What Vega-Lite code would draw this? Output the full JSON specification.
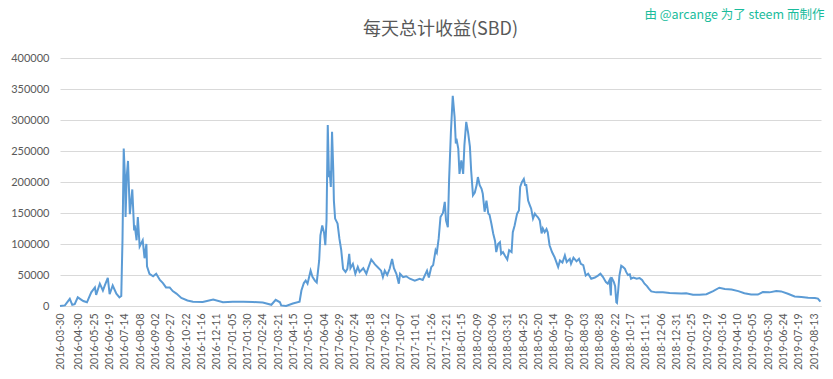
{
  "$schema": "https://vega.github.io/schema/vega-lite/v6.json",
  "background": "white",
  "padding": {"left": 10, "top": 8, "right": 15, "bottom": 5},
  "title": {"text": "由 @arcange 为了 steem 而制作", "anchor": "end", "color": "#1ABC9C", "fontSize": 12.5, "font": "Noto Sans CJK SC", "fontWeight": "normal", "offset": 0},
  "config": {"view": {"stroke": null}},
  "vconcat": [
    {
      "width": 761,
      "height": 248,
      "title": {"text": "每天总计收益(SBD)", "fontSize": 18, "font": "Noto Sans CJK SC", "fontWeight": "normal", "color": "#595959", "anchor": "middle", "offset": 13},
      "data": {"values": [
        {"date": "2016-03-30", "value": 0},
        {"date": "2016-04-07", "value": 1000},
        {"date": "2016-04-15", "value": 11600},
        {"date": "2016-04-19", "value": 2000},
        {"date": "2016-04-23", "value": 3000},
        {"date": "2016-04-28", "value": 14000},
        {"date": "2016-05-07", "value": 8000},
        {"date": "2016-05-13", "value": 6000},
        {"date": "2016-05-20", "value": 22000},
        {"date": "2016-05-26", "value": 30000},
        {"date": "2016-05-28", "value": 18000},
        {"date": "2016-06-03", "value": 36000},
        {"date": "2016-06-08", "value": 25000},
        {"date": "2016-06-11", "value": 33000},
        {"date": "2016-06-16", "value": 45500},
        {"date": "2016-06-19", "value": 19000},
        {"date": "2016-06-24", "value": 33000},
        {"date": "2016-06-30", "value": 20000},
        {"date": "2016-07-05", "value": 14000},
        {"date": "2016-07-08", "value": 16000},
        {"date": "2016-07-09", "value": 63000},
        {"date": "2016-07-10", "value": 106000},
        {"date": "2016-07-12", "value": 254000},
        {"date": "2016-07-14", "value": 208000},
        {"date": "2016-07-15", "value": 143500},
        {"date": "2016-07-17", "value": 210000},
        {"date": "2016-07-19", "value": 234000},
        {"date": "2016-07-22", "value": 148000},
        {"date": "2016-07-26", "value": 188000},
        {"date": "2016-07-29", "value": 122000},
        {"date": "2016-07-30", "value": 130000},
        {"date": "2016-08-02", "value": 106000},
        {"date": "2016-08-04", "value": 143500},
        {"date": "2016-08-07", "value": 96000},
        {"date": "2016-08-12", "value": 106000},
        {"date": "2016-08-15", "value": 77000},
        {"date": "2016-08-18", "value": 100000},
        {"date": "2016-08-19", "value": 64000},
        {"date": "2016-08-23", "value": 52000},
        {"date": "2016-08-29", "value": 48000},
        {"date": "2016-09-03", "value": 52000},
        {"date": "2016-09-09", "value": 42000},
        {"date": "2016-09-14", "value": 37000},
        {"date": "2016-09-19", "value": 30000},
        {"date": "2016-09-25", "value": 30000},
        {"date": "2016-09-30", "value": 24000},
        {"date": "2016-10-06", "value": 20000},
        {"date": "2016-10-14", "value": 13000},
        {"date": "2016-10-24", "value": 9000},
        {"date": "2016-11-02", "value": 7000},
        {"date": "2016-11-18", "value": 6500},
        {"date": "2016-12-05", "value": 10500},
        {"date": "2016-12-21", "value": 6000},
        {"date": "2017-01-06", "value": 7000},
        {"date": "2017-01-23", "value": 7000},
        {"date": "2017-02-08", "value": 6500},
        {"date": "2017-02-24", "value": 5500},
        {"date": "2017-03-10", "value": 2000},
        {"date": "2017-03-17", "value": 10000},
        {"date": "2017-03-24", "value": 6000},
        {"date": "2017-03-26", "value": 1000},
        {"date": "2017-04-03", "value": 0},
        {"date": "2017-04-14", "value": 4000},
        {"date": "2017-04-25", "value": 7000},
        {"date": "2017-04-28", "value": 25000},
        {"date": "2017-05-02", "value": 37000},
        {"date": "2017-05-05", "value": 41000},
        {"date": "2017-05-08", "value": 36000},
        {"date": "2017-05-13", "value": 57000},
        {"date": "2017-05-16", "value": 47000},
        {"date": "2017-05-20", "value": 41000},
        {"date": "2017-05-23", "value": 38000},
        {"date": "2017-05-27", "value": 73500},
        {"date": "2017-05-29", "value": 114000},
        {"date": "2017-06-01", "value": 130000},
        {"date": "2017-06-04", "value": 118000},
        {"date": "2017-06-06", "value": 98000},
        {"date": "2017-06-08", "value": 138000},
        {"date": "2017-06-10", "value": 292000},
        {"date": "2017-06-12", "value": 208000},
        {"date": "2017-06-13", "value": 218000},
        {"date": "2017-06-15", "value": 192000},
        {"date": "2017-06-17", "value": 281000},
        {"date": "2017-06-19", "value": 219000},
        {"date": "2017-06-20", "value": 170000},
        {"date": "2017-06-22", "value": 141000},
        {"date": "2017-06-26", "value": 133000},
        {"date": "2017-06-29", "value": 108600},
        {"date": "2017-07-02", "value": 90000},
        {"date": "2017-07-05", "value": 60000},
        {"date": "2017-07-09", "value": 55000},
        {"date": "2017-07-12", "value": 60000},
        {"date": "2017-07-15", "value": 84000},
        {"date": "2017-07-17", "value": 61000},
        {"date": "2017-07-21", "value": 68000},
        {"date": "2017-07-25", "value": 52000},
        {"date": "2017-07-29", "value": 63000},
        {"date": "2017-08-01", "value": 55000},
        {"date": "2017-08-07", "value": 61000},
        {"date": "2017-08-12", "value": 52000},
        {"date": "2017-08-15", "value": 61000},
        {"date": "2017-08-20", "value": 75000},
        {"date": "2017-08-26", "value": 67000},
        {"date": "2017-08-31", "value": 62000},
        {"date": "2017-09-05", "value": 57000},
        {"date": "2017-09-08", "value": 46500},
        {"date": "2017-09-11", "value": 57000},
        {"date": "2017-09-15", "value": 50000},
        {"date": "2017-09-19", "value": 60000},
        {"date": "2017-09-23", "value": 76000},
        {"date": "2017-09-26", "value": 61000},
        {"date": "2017-09-30", "value": 52000},
        {"date": "2017-10-04", "value": 36000},
        {"date": "2017-10-06", "value": 52000},
        {"date": "2017-10-11", "value": 46500},
        {"date": "2017-10-16", "value": 48000},
        {"date": "2017-10-22", "value": 44000},
        {"date": "2017-10-30", "value": 41000},
        {"date": "2017-11-07", "value": 44000},
        {"date": "2017-11-12", "value": 42000},
        {"date": "2017-11-19", "value": 57000},
        {"date": "2017-11-22", "value": 46000},
        {"date": "2017-11-26", "value": 63000},
        {"date": "2017-11-29", "value": 66000},
        {"date": "2017-12-03", "value": 90000},
        {"date": "2017-12-05", "value": 86000},
        {"date": "2017-12-08", "value": 108600},
        {"date": "2017-12-11", "value": 143500},
        {"date": "2017-12-15", "value": 150000},
        {"date": "2017-12-18", "value": 168000},
        {"date": "2017-12-20", "value": 138000},
        {"date": "2017-12-23", "value": 127000},
        {"date": "2017-12-25", "value": 203000},
        {"date": "2017-12-28", "value": 281000},
        {"date": "2017-12-31", "value": 339000},
        {"date": "2018-01-03", "value": 305000},
        {"date": "2018-01-05", "value": 262000},
        {"date": "2018-01-06", "value": 270000},
        {"date": "2018-01-09", "value": 254000},
        {"date": "2018-01-11", "value": 213000},
        {"date": "2018-01-14", "value": 235000},
        {"date": "2018-01-17", "value": 213000},
        {"date": "2018-01-19", "value": 259000},
        {"date": "2018-01-22", "value": 297000},
        {"date": "2018-01-25", "value": 280000},
        {"date": "2018-01-28", "value": 257000},
        {"date": "2018-01-30", "value": 219000},
        {"date": "2018-02-02", "value": 178500},
        {"date": "2018-02-05", "value": 183000},
        {"date": "2018-02-08", "value": 195000},
        {"date": "2018-02-10", "value": 208000},
        {"date": "2018-02-13", "value": 195000},
        {"date": "2018-02-16", "value": 189000},
        {"date": "2018-02-18", "value": 181000},
        {"date": "2018-02-21", "value": 152000},
        {"date": "2018-02-24", "value": 170000},
        {"date": "2018-02-27", "value": 149000},
        {"date": "2018-03-01", "value": 147000},
        {"date": "2018-03-04", "value": 133000},
        {"date": "2018-03-07", "value": 117000},
        {"date": "2018-03-10", "value": 105000},
        {"date": "2018-03-12", "value": 87000},
        {"date": "2018-03-15", "value": 100000},
        {"date": "2018-03-18", "value": 103000},
        {"date": "2018-03-20", "value": 84000},
        {"date": "2018-03-23", "value": 87000},
        {"date": "2018-03-26", "value": 81500},
        {"date": "2018-03-30", "value": 75000},
        {"date": "2018-04-02", "value": 90000},
        {"date": "2018-04-06", "value": 87000},
        {"date": "2018-04-08", "value": 119000},
        {"date": "2018-04-11", "value": 130000},
        {"date": "2018-04-15", "value": 149000},
        {"date": "2018-04-18", "value": 154000},
        {"date": "2018-04-20", "value": 192000},
        {"date": "2018-04-23", "value": 200000},
        {"date": "2018-04-26", "value": 205000},
        {"date": "2018-04-28", "value": 195000},
        {"date": "2018-04-30", "value": 195000},
        {"date": "2018-05-03", "value": 170000},
        {"date": "2018-05-06", "value": 162000},
        {"date": "2018-05-08", "value": 157000},
        {"date": "2018-05-11", "value": 141000},
        {"date": "2018-05-14", "value": 149000},
        {"date": "2018-05-16", "value": 146000},
        {"date": "2018-05-19", "value": 143000},
        {"date": "2018-05-22", "value": 138000},
        {"date": "2018-05-25", "value": 117000},
        {"date": "2018-05-27", "value": 125000},
        {"date": "2018-05-30", "value": 119000},
        {"date": "2018-06-02", "value": 124000},
        {"date": "2018-06-04", "value": 119000},
        {"date": "2018-06-07", "value": 98000},
        {"date": "2018-06-11", "value": 87000},
        {"date": "2018-06-15", "value": 79000},
        {"date": "2018-06-21", "value": 63000},
        {"date": "2018-06-24", "value": 73500},
        {"date": "2018-06-28", "value": 70000},
        {"date": "2018-07-02", "value": 81500},
        {"date": "2018-07-05", "value": 71000},
        {"date": "2018-07-10", "value": 76000},
        {"date": "2018-07-12", "value": 68000},
        {"date": "2018-07-16", "value": 78000},
        {"date": "2018-07-21", "value": 72000},
        {"date": "2018-07-25", "value": 76000},
        {"date": "2018-07-28", "value": 68000},
        {"date": "2018-08-01", "value": 66000},
        {"date": "2018-08-05", "value": 49000},
        {"date": "2018-08-09", "value": 52000},
        {"date": "2018-08-14", "value": 44000},
        {"date": "2018-08-20", "value": 46000},
        {"date": "2018-08-25", "value": 49000},
        {"date": "2018-08-29", "value": 52000},
        {"date": "2018-09-02", "value": 47000},
        {"date": "2018-09-07", "value": 38500},
        {"date": "2018-09-10", "value": 36000},
        {"date": "2018-09-13", "value": 42000},
        {"date": "2018-09-15", "value": 17000},
        {"date": "2018-09-16", "value": 46500},
        {"date": "2018-09-20", "value": 38500},
        {"date": "2018-09-22", "value": 32000},
        {"date": "2018-09-24", "value": 6000},
        {"date": "2018-09-25", "value": 5000},
        {"date": "2018-09-27", "value": 25000},
        {"date": "2018-09-29", "value": 49000},
        {"date": "2018-10-02", "value": 65000},
        {"date": "2018-10-05", "value": 63000},
        {"date": "2018-10-08", "value": 60000},
        {"date": "2018-10-10", "value": 55000},
        {"date": "2018-10-13", "value": 50000},
        {"date": "2018-10-16", "value": 51000},
        {"date": "2018-10-18", "value": 44000},
        {"date": "2018-10-22", "value": 46000},
        {"date": "2018-10-27", "value": 44000},
        {"date": "2018-11-01", "value": 45000},
        {"date": "2018-11-05", "value": 42000},
        {"date": "2018-11-09", "value": 36000},
        {"date": "2018-11-13", "value": 32000},
        {"date": "2018-11-16", "value": 28000},
        {"date": "2018-11-20", "value": 23500},
        {"date": "2018-11-28", "value": 22000},
        {"date": "2018-12-09", "value": 22000},
        {"date": "2018-12-20", "value": 21000},
        {"date": "2018-12-29", "value": 20500},
        {"date": "2019-01-08", "value": 20000},
        {"date": "2019-01-16", "value": 20500},
        {"date": "2019-01-27", "value": 18000},
        {"date": "2019-02-07", "value": 18000},
        {"date": "2019-02-18", "value": 19000},
        {"date": "2019-03-01", "value": 24000},
        {"date": "2019-03-11", "value": 29500},
        {"date": "2019-03-20", "value": 27500},
        {"date": "2019-03-31", "value": 26500},
        {"date": "2019-04-11", "value": 24000},
        {"date": "2019-04-21", "value": 20700},
        {"date": "2019-05-02", "value": 18500},
        {"date": "2019-05-13", "value": 18500},
        {"date": "2019-05-21", "value": 22500},
        {"date": "2019-06-01", "value": 22000},
        {"date": "2019-06-12", "value": 24000},
        {"date": "2019-06-20", "value": 23500},
        {"date": "2019-07-01", "value": 19700},
        {"date": "2019-07-12", "value": 15300},
        {"date": "2019-07-23", "value": 14500},
        {"date": "2019-08-03", "value": 13500},
        {"date": "2019-08-14", "value": 13000},
        {"date": "2019-08-19", "value": 12000},
        {"date": "2019-08-23", "value": 7000}
      ]},
      "mark": {"type": "line", "color": "#5B9BD5", "strokeWidth": 2},
      "encoding": {
        "x": {
          "field": "date", "type": "temporal",
          "scale": {"type": "utc", "domain": [{"year": 2016, "month": 3, "date": 30, "utc": true}, {"year": 2019, "month": 8, "date": 24, "utc": true}]},
          "axis": {
            "values": [
              {"year": 2016, "month": 3, "date": 30, "utc": true},
              {"year": 2016, "month": 4, "date": 30, "utc": true},
              {"year": 2016, "month": 5, "date": 25, "utc": true},
              {"year": 2016, "month": 6, "date": 19, "utc": true},
              {"year": 2016, "month": 7, "date": 14, "utc": true},
              {"year": 2016, "month": 8, "date": 8, "utc": true},
              {"year": 2016, "month": 9, "date": 2, "utc": true},
              {"year": 2016, "month": 9, "date": 27, "utc": true},
              {"year": 2016, "month": 10, "date": 22, "utc": true},
              {"year": 2016, "month": 11, "date": 16, "utc": true},
              {"year": 2016, "month": 12, "date": 11, "utc": true},
              {"year": 2017, "month": 1, "date": 5, "utc": true},
              {"year": 2017, "month": 1, "date": 30, "utc": true},
              {"year": 2017, "month": 2, "date": 24, "utc": true},
              {"year": 2017, "month": 3, "date": 21, "utc": true},
              {"year": 2017, "month": 4, "date": 15, "utc": true},
              {"year": 2017, "month": 5, "date": 10, "utc": true},
              {"year": 2017, "month": 6, "date": 4, "utc": true},
              {"year": 2017, "month": 6, "date": 29, "utc": true},
              {"year": 2017, "month": 7, "date": 24, "utc": true},
              {"year": 2017, "month": 8, "date": 18, "utc": true},
              {"year": 2017, "month": 9, "date": 12, "utc": true},
              {"year": 2017, "month": 10, "date": 7, "utc": true},
              {"year": 2017, "month": 11, "date": 1, "utc": true},
              {"year": 2017, "month": 11, "date": 26, "utc": true},
              {"year": 2017, "month": 12, "date": 21, "utc": true},
              {"year": 2018, "month": 1, "date": 15, "utc": true},
              {"year": 2018, "month": 2, "date": 9, "utc": true},
              {"year": 2018, "month": 3, "date": 6, "utc": true},
              {"year": 2018, "month": 3, "date": 31, "utc": true},
              {"year": 2018, "month": 4, "date": 25, "utc": true},
              {"year": 2018, "month": 5, "date": 20, "utc": true},
              {"year": 2018, "month": 6, "date": 14, "utc": true},
              {"year": 2018, "month": 7, "date": 9, "utc": true},
              {"year": 2018, "month": 8, "date": 3, "utc": true},
              {"year": 2018, "month": 8, "date": 28, "utc": true},
              {"year": 2018, "month": 9, "date": 22, "utc": true},
              {"year": 2018, "month": 10, "date": 17, "utc": true},
              {"year": 2018, "month": 11, "date": 11, "utc": true},
              {"year": 2018, "month": 12, "date": 6, "utc": true},
              {"year": 2018, "month": 12, "date": 31, "utc": true},
              {"year": 2019, "month": 1, "date": 25, "utc": true},
              {"year": 2019, "month": 2, "date": 19, "utc": true},
              {"year": 2019, "month": 3, "date": 16, "utc": true},
              {"year": 2019, "month": 4, "date": 10, "utc": true},
              {"year": 2019, "month": 5, "date": 5, "utc": true},
              {"year": 2019, "month": 5, "date": 30, "utc": true},
              {"year": 2019, "month": 6, "date": 24, "utc": true},
              {"year": 2019, "month": 7, "date": 19, "utc": true},
              {"year": 2019, "month": 8, "date": 13, "utc": true}
            ],
            "labelExpr": "utcFormat(datum.value, '%Y-%m-%d')",
            "labelAngle": -90, "labelOverlap": false, "labelFlush": false,
            "grid": false, "ticks": false, "title": null,
            "labelFont": "Lato", "labelFontSize": 10.5, "labelColor": "#595959",
            "domainColor": "#D9D9D9", "labelPadding": 7
          }
        },
        "y": {
          "field": "value", "type": "quantitative",
          "scale": {"domain": [0, 400000], "nice": false},
          "axis": {
            "values": [0, 50000, 100000, 150000, 200000, 250000, 300000, 350000, 400000],
            "format": "d", "title": null, "domain": false, "ticks": false,
            "gridColor": "#D9D9D9", "labelFont": "Lato", "labelFontSize": 11,
            "labelColor": "#595959", "labelPadding": 11
          }
        }
      }
    }
  ]
}
